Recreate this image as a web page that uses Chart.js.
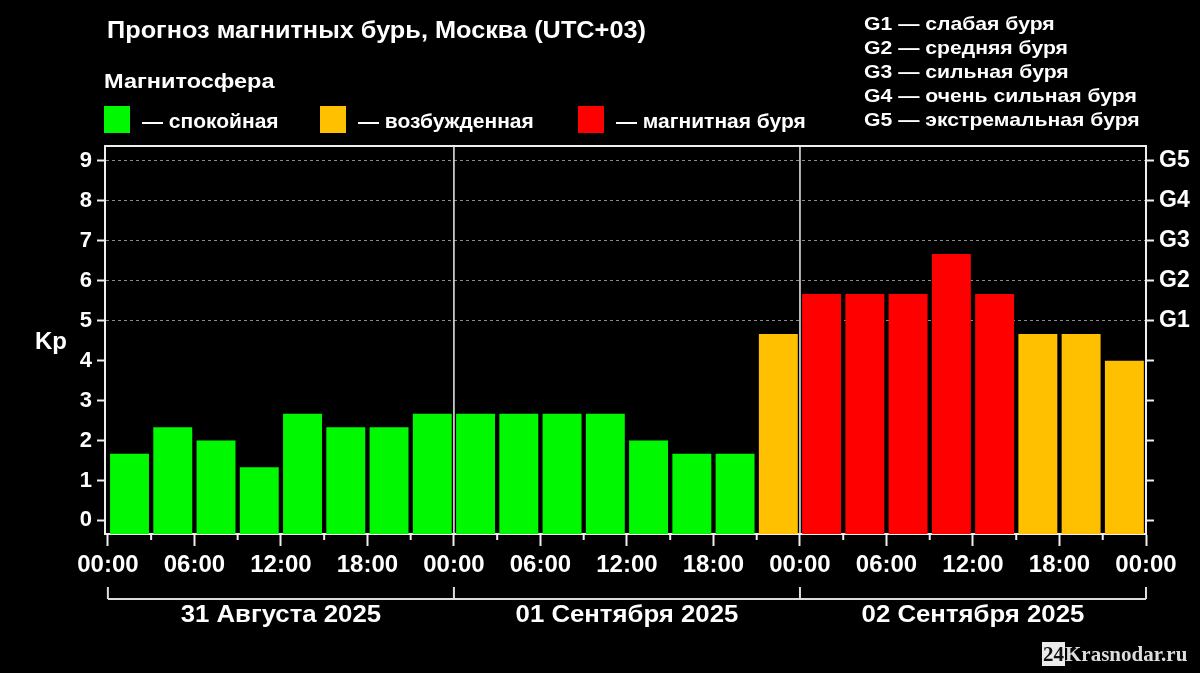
<!DOCTYPE html>
<html>
<head>
<meta charset="utf-8">
<script src="https://cdn.jsdelivr.net/npm/chart.js@4.4.0/dist/chart.umd.min.js"></script>
<style>
    body { margin: 0; background: #000; }
    #wrap { position: relative; width: 1200px; height: 673px; overflow: hidden; background: #000;
            font-family: "Liberation Sans", Arial, sans-serif; font-weight: bold; color: #fff; }
    .t { position: absolute; white-space: nowrap; line-height: 1; transform-origin: 0 0; }
    .sw { position: absolute; width: 26px; height: 27px; }
    #wm { position: absolute; left: 1042px; top: 644px; font-family: "Liberation Serif", "Times New Roman", serif;
          font-weight: bold; font-size: 21px; line-height: 20px; color: #ddd; white-space: nowrap; }
    #wm span { background: #ececec; color: #111; padding: 0 1px; }
</style>
</head>
<body>
<div id="wrap">
    <canvas id="c" width="1200" height="673" style="position:absolute;left:0;top:0"></canvas>
    <div class="t" style="left:107px;top:19px;font-size:23px;transform:scaleX(1.1)">Прогноз магнитных бурь, Москва (UTC+03)</div>
    <div class="t" style="left:104px;top:70px;font-size:21px;transform:scaleX(1.12)">Магнитосфера</div>
    <div id="legend"></div>
    <div id="glegend"></div>
    <div id="wm"><span>24</span>Krasnodar.ru</div>
</div>

<script>
// start of each 3-hour slot, hours from 31.08 00:00
const slotHours = [0, 3, 6, 9, 12, 15, 18, 21,
                   24, 27, 30, 33, 36, 39, 42, 45,
                   48, 51, 54, 57, 60, 63, 66, 69];
// Kp forecast per slot
const kpValues = [1.67, 2.33, 2.00, 1.33, 2.67, 2.33, 2.33, 2.67,
                  2.67, 2.67, 2.67, 2.67, 2.00, 1.67, 1.67, 4.67,
                  5.67, 5.67, 5.67, 6.67, 5.67, 4.67, 4.67, 4.00];

const dayStarts = [0, 24, 48, 72];
const dayLabels = ['31 Августа 2025', '01 Сентября 2025', '02 Сентября 2025'];
const timeTicks = [0, 6, 12, 18, 24, 30, 36, 42, 48, 54, 60, 66, 72];
const minorTicks = [3, 9, 15, 21, 27, 33, 39, 45, 51, 57, 63, 69];
const kpTicks = [0, 1, 2, 3, 4, 5, 6, 7, 8, 9];
const gLabels = ['G1', 'G2', 'G3', 'G4', 'G5'];
const gNames = ['слабая буря', 'средняя буря', 'сильная буря', 'очень сильная буря', 'экстремальная буря'];
const levelNames = ['спокойная', 'возбужденная', 'магнитная буря'];
const levelColors = ['#00f800', '#ffc000', '#ff0000'];

const Y_MIN = -0.34, Y_MAX = 9.375;
const FONT = '"Liberation Sans", Arial, sans-serif';

function levelColor(v) {
    if (v >= 5) return levelColors[2];
    if (v >= 4) return levelColors[1];
    return levelColors[0];
}

function hhmm(h) {
    return String(h % 24).padStart(2, '0') + ':00';
}

// legend row
var legendX = [104, 320, 578];
var lg = document.getElementById('legend');
levelNames.forEach(function (n, i) {
    lg.insertAdjacentHTML('beforeend',
        `<div class="sw" style="left:${legendX[i]}px;top:106px;background:${levelColors[i]}"></div>` +
        `<div class="t" style="left:${legendX[i] + 38}px;top:110px;font-size:21px">— ${n}</div>`);
});

// G scale legend
var gl = document.getElementById('glegend');
gLabels.forEach(function (g, i) {
    gl.insertAdjacentHTML('beforeend',
        `<div class="t" style="left:864px;top:${13.5 + i * 24.2}px;font-size:19px;transform:scaleX(1.115)">${g} — ${gNames[i]}</div>`);
});

// frame, day lines, minor ticks, date bracket, Kp title
const decorPlugin = {
    id: 'decor',
    afterDraw(chart) {
        const { ctx, chartArea: a, scales: { x } } = chart;
        ctx.save();
        ctx.strokeStyle = '#eeeeee';
        ctx.lineWidth = 2;
        ctx.beginPath();
        ctx.moveTo(a.left, a.top);
        ctx.lineTo(a.right, a.top);
        ctx.stroke();

        ctx.lineWidth = 1.5;
        dayStarts.slice(1, -1).forEach(function (h) {
            const px = x.getPixelForValue(h);
            ctx.beginPath();
            ctx.moveTo(px, a.top);
            ctx.lineTo(px, a.bottom);
            ctx.stroke();
        });

        ctx.lineWidth = 2;
        minorTicks.forEach(function (h) {
            const px = x.getPixelForValue(h);
            ctx.beginPath();
            ctx.moveTo(px, a.bottom);
            ctx.lineTo(px, a.bottom + 6);
            ctx.stroke();
        });

        // bracket under the days
        const by = 599;
        ctx.strokeStyle = '#dddddd';
        ctx.beginPath();
        ctx.moveTo(x.getPixelForValue(dayStarts[0]), by);
        ctx.lineTo(x.getPixelForValue(dayStarts[dayStarts.length - 1]), by);
        ctx.stroke();
        dayStarts.forEach(function (h) {
            const px = x.getPixelForValue(h);
            ctx.beginPath();
            ctx.moveTo(px, by - 12);
            ctx.lineTo(px, by);
            ctx.stroke();
        });

        ctx.fillStyle = '#ffffff';
        ctx.font = 'bold 23px ' + FONT;
        ctx.textAlign = 'center';
        ctx.textBaseline = 'middle';
        dayLabels.forEach(function (d, i) {
            const px = (x.getPixelForValue(dayStarts[i]) + x.getPixelForValue(dayStarts[i + 1])) / 2;
            ctx.save();
            ctx.translate(px, 616);
            ctx.scale(1.12, 1);
            ctx.fillText(d, 0, 0);
            ctx.restore();
        });

        ctx.font = 'bold 24px ' + FONT;
        ctx.fillText('Kp', 51, (a.top + a.bottom) / 2 + 2);
        ctx.restore();
    }
};

Chart.defaults.font.family = FONT;
Chart.defaults.color = '#ffffff';

const ctx = document.getElementById('c').getContext('2d');
new Chart(ctx, {
    type: 'bar',
    data: {
        datasets: [{
            data: kpValues.map((v, i) => ({ x: slotHours[i] + 1.5, y: v })),
            backgroundColor: kpValues.map(levelColor),
            base: Y_MIN,
            barPercentage: 0.9,
            categoryPercentage: 1.0,
            borderWidth: 0
        }]
    },
    options: {
        responsive: false,
        animation: false,
        layout: { padding: { top: 146, left: 0, right: 0, bottom: 0 } },
        plugins: {
            legend: { display: false },
            tooltip: { enabled: false }
        },
        scales: {
            x: {
                type: 'linear',
                min: -0.2,
                max: 72,
                offset: false,
                afterBuildTicks: s => { s.ticks = timeTicks.map(v => ({ value: v })); },
                afterFit: s => { s.height = 139; },
                border: { display: true, color: '#eeeeee', width: 2 },
                grid: { offset: false, drawOnChartArea: false, tickLength: 12, tickColor: '#eeeeee', tickWidth: 2 },
                ticks: {
                    autoSkip: false, maxRotation: 0, padding: 5,
                    color: '#ffffff',
                    font: { size: 24, weight: 'bold' },
                    callback: v => hhmm(v)
                }
            },
            y: {
                position: 'left',
                min: Y_MIN,
                max: Y_MAX,
                afterBuildTicks: s => { s.ticks = kpTicks.map(v => ({ value: v })); },
                afterFit: s => { s.width = 105; },
                border: { display: true, color: '#eeeeee', width: 2, dash: [3, 3] },
                grid: {
                    drawOnChartArea: true,
                    tickLength: 8,
                    tickColor: '#eeeeee',
                    tickWidth: 2,
                    lineWidth: 1,
                    color: c => (c.tick && c.tick.value >= 5) ? '#8c8c8c' : 'rgba(0,0,0,0)'
                },
                ticks: {
                    padding: 5,
                    color: '#ffffff',
                    font: { size: 22, weight: 'bold' },
                    callback: v => String(v)
                }
            },
            y2: {
                position: 'right',
                min: Y_MIN,
                max: Y_MAX,
                afterBuildTicks: s => { s.ticks = kpTicks.map(v => ({ value: v })); },
                afterFit: s => { s.width = 54; },
                border: { display: true, color: '#eeeeee', width: 2 },
                grid: { drawOnChartArea: false, tickLength: 8, tickColor: '#eeeeee', tickWidth: 2 },
                ticks: {
                    padding: 5,
                    color: '#ffffff',
                    font: { size: 23, weight: 'bold' },
                    callback: v => (v >= 5 ? gLabels[v - 5] : '')
                }
            }
        }
    },
    plugins: [decorPlugin]
});
</script>
</body>
</html>
